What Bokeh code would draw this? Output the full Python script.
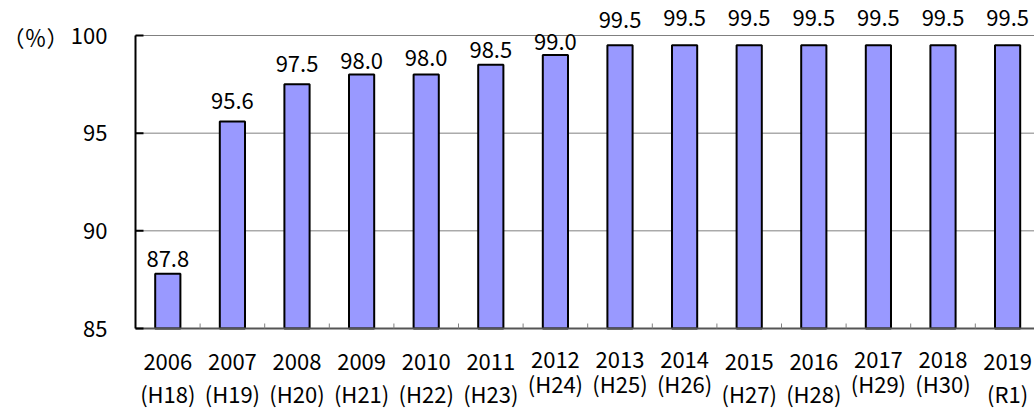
from bokeh.plotting import figure
from bokeh.models import ColumnDataSource, LabelSet, Range1d
from bokeh.core.properties import value
from bokeh.embed import file_html
from bokeh.resources import INLINE

# ---- data ----
years = ["2006", "2007", "2008", "2009", "2010", "2011", "2012",
         "2013", "2014", "2015", "2016", "2017", "2018", "2019"]
eras = ["(H18)", "(H19)", "(H20)", "(H21)", "(H22)", "(H23)", "(H24)",
        "(H25)", "(H26)", "(H27)", "(H28)", "(H29)", "(H30)", "(R1)"]
rates = [87.8, 95.6, 97.5, 98.0, 98.0, 98.5, 99.0,
         99.5, 99.5, 99.5, 99.5, 99.5, 99.5, 99.5]
value_labels = ["87.8", "95.6", "97.5", "98.0", "98.0", "98.5", "99.0",
                "99.5", "99.5", "99.5", "99.5", "99.5", "99.5", "99.5"]
y_ticks = [85, 90, 95, 100]
y_tick_labels = ["85", "90", "95", "100"]
unit_label = "（％）"

# ---- layout / style helpers (not data) ----
label_gap = [7, 12, 12, 6, 9, 7, 5, 17, 19, 19, 19, 19, 19, 19]
raised = [0, 0, 0, 0, 0, 0, 1, 1, 1, 0, 0, 1, 1, 0]

FONT = "Noto Sans CJK JP"
FS = "22px"

W, H = 1034, 410
AXIS_PX = 135              # canvas px of the value axis
PX_X = 64.6                # px per category
PX_Y = 293 / 15.0          # px per percentage point
Y0_PX, Y100_PX = 328, 35   # canvas px of 85 and 100

ymin, ymax = y_ticks[0], y_ticks[-1]
y_start = ymin - (H - Y0_PX) / PX_Y
y_end = ymax + Y100_PX / PX_Y
x_start = -AXIS_PX / PX_X
x_end = x_start + W / PX_X

n = len(years)
xs = [i + 0.5 for i in range(n)]
src = ColumnDataSource(dict(
    x=xs, top=rates, lab=value_labels, gap=label_gap,
    year=years, era=eras,
    base=[ymin] * n,
    yoff=[-39 if r else -41 for r in raised],
    eoff=[-64 if r else -74 for r in raised],
))
ysrc = ColumnDataSource(dict(x=[0] * len(y_ticks), y=y_ticks, t=y_tick_labels))

p = figure(width=W, height=H, output_backend="svg", toolbar_location=None,
           title=None, x_axis_location=None, y_axis_location=None,
           x_range=Range1d(x_start, x_end), y_range=Range1d(y_start, y_end),
           min_border_left=0, min_border_right=0, min_border_top=0,
           min_border_bottom=0)
p.outline_line_color = None
p.background_fill_color = "white"
p.xgrid.grid_line_color = None
p.ygrid.grid_line_color = None

# horizontal gridlines (90, 95, 100)
grid = y_ticks[1:]
p.segment(x0=[0] * len(grid), y0=grid, x1=[x_end] * len(grid), y1=grid,
          line_color="#808080", line_width=1)

# bars
p.vbar(x="x", top="top", bottom=ymin, width=0.39, source=src,
       fill_color="#9999FF", line_color="black", line_width=2)

# x axis line and category-boundary ticks
bounds = list(range(1, n))
p.segment(x0=[0], y0=[ymin], x1=[x_end], y1=[ymin],
          line_color="#555555", line_width=2)
p.segment(x0=bounds, y0=[ymin] * len(bounds), x1=bounds,
          y1=[ymin + 5 / PX_Y] * len(bounds),
          line_color="#808080", line_width=1)

# y axis line and inward ticks
p.segment(x0=[0], y0=[ymin], x1=[0], y1=[ymax],
          line_color="black", line_width=2)
p.segment(x0=[0] * len(y_ticks), y0=y_ticks,
          x1=[8 / PX_X] * len(y_ticks), y1=y_ticks,
          line_color="black", line_width=2)

# y tick labels
p.add_layout(LabelSet(x="x", y="y", text="t", x_offset=-28, source=ysrc,
                      text_align="right", text_baseline="middle",
                      text_font=value(FONT), text_font_size=FS,
                      text_color="black"))
# unit label
usrc = ColumnDataSource(dict(x=[0], y=[ymax], t=[unit_label]))
p.add_layout(LabelSet(x="x", y="y", text="t", x_offset=-67, source=usrc,
                      text_align="right", text_baseline="middle",
                      text_font=value(FONT), text_font_size=FS,
                      text_color="black"))

# value labels
p.add_layout(LabelSet(x="x", y="top", text="lab", y_offset="gap", source=src,
                      text_align="center", text_baseline="alphabetic",
                      text_font=value(FONT), text_font_size=FS,
                      text_color="black"))
# category labels (two rows)
p.add_layout(LabelSet(x="x", y="base", text="year", y_offset="yoff", source=src,
                      text_align="center", text_baseline="alphabetic",
                      text_font=value(FONT), text_font_size=FS,
                      text_color="black"))
p.add_layout(LabelSet(x="x", y="base", text="era", y_offset="eoff", source=src,
                      text_align="center", text_baseline="alphabetic",
                      text_font=value(FONT), text_font_size=FS,
                      text_color="black"))

open("out.html", "w").write(file_html(p, INLINE))
